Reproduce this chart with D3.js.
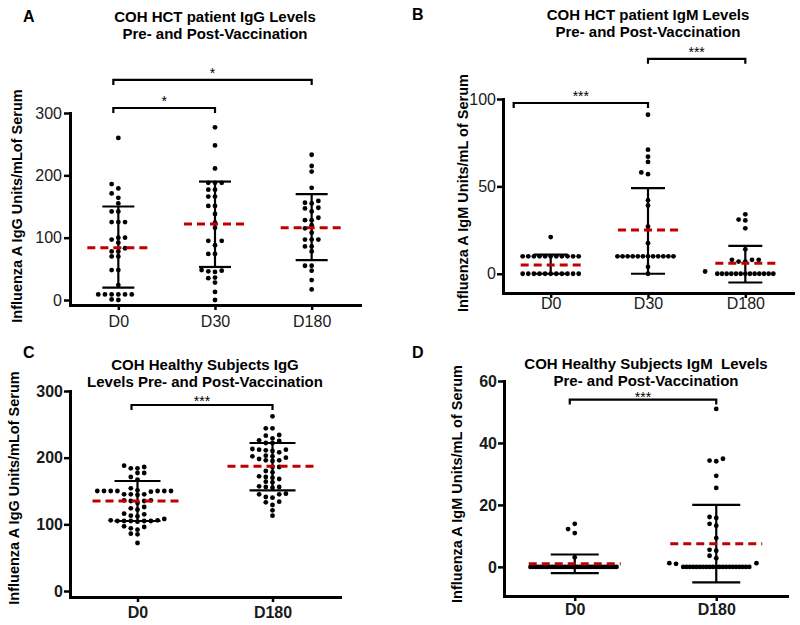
<!DOCTYPE html>
<html>
<head>
<meta charset="utf-8">
<script src="https://cdn.jsdelivr.net/npm/d3@7"></script>
<style>
body { margin: 0; background: #fff; }
svg text { font-family: "Liberation Sans", Arial, sans-serif; }
</style>
</head>
<body>
<svg id="fig" width="800" height="625"></svg>
<script>
// ---- panel A : HCT patients, IgG ----
const catsA = ["D0", "D30", "D180"];
const aD0 = [260, 186, 179, 171, 164, 155, 142, 142, 125, 125, 125, 100, 97, 100, 92, 83, 78, 78, 70, 70, 48, 48, 24, 9, 9, 9, 9, 9, 9, 0, 1];
const aD30 = [277, 248, 211, 188, 188, 188, 177, 177, 166, 166, 151, 151, 138, 124, 116, 95, 95, 88, 74, 74, 48, 47, 46, 45, 36, 35, 28, 13, 0];
const aD180 = [233, 215, 206, 180, 159, 156, 155, 148, 147, 142, 132, 128, 128, 120, 115, 108, 97, 97, 97, 86, 86, 78, 55, 55, 47, 32, 17];
const aMean = [84, 122, 116];
const aSdHi = [150, 190, 170];
const aSdLo = [20, 53, 64];
const aTicks = [0, 100, 200, 300];
const aSig = [["D0", "D30", "*"], ["D0", "D180", "*"]];

// ---- panel B : HCT patients, IgM ----
const catsB = ["D0", "D30", "D180"];
const bD0 = [21, 10, 10, 10, 10, 10, 10, 10, 10, 10, 10, 10, 0, 0, 0, 0, 0, 0, 0, 0, 0, 0, 0];
const bD30 = [91, 71, 67, 64, 58, 57, 42, 39, 27, 17.5, 10, 10, 10, 10, 10, 10, 10, 10, 10, 10, 10, 10, 4, 0];
const bD180 = [34, 31, 30.5, 26, 14, 8, 7, 7, 8, 8, 1.3, 0, 0, 0, 0, 0, 0, 0, 0, 0, 0, 0, 0, 0];
const bMean = [5, 25, 6];
const bSdHi = [11, 49, 16];
const bSdLo = [0, 0, -5];
const bTicks = [0, 50, 100];
const bSig = [["D0", "D30", "***"], ["D30", "D180", "***"]];

// ---- panel C : healthy subjects, IgG ----
const catsC = ["D0", "D180"];
const cD0 = [188, 186, 184, 184, 177, 177, 171, 167, 154, 151, 150, 150, 150, 150, 150, 150, 150, 149, 145, 145, 145, 144, 136, 136, 135, 135, 132, 126, 124, 122, 116, 115, 113, 112, 108, 106, 106, 105, 105, 105, 105, 105, 104, 97, 96, 94, 92, 86, 85, 72];
const cD180 = [262, 244, 244, 234, 233, 229, 226, 225, 222, 222, 213, 212, 212, 211, 210, 208, 203, 202, 202, 200, 198, 196, 196, 195, 186, 186, 180, 178, 172, 171, 170, 168, 164, 163, 157, 156, 156, 155, 146, 145, 145, 141, 140, 134, 133, 129, 121, 113];
const cMean = [135, 187];
const cSdHi = [165, 222];
const cSdLo = [105, 151];
const cTicks = [0, 100, 200, 300];
const cSig = [["D0", "D180", "***"]];

// ---- panel D : healthy subjects, IgM ----
const catsD = ["D0", "D180"];
const dD0 = [13.9, 12.2, 10.9, 3.1, 0, 0, 0, 0, 0, 0, 0, 0, 0, 0, 0, 0, 0, 0, 0, 0, 0, 0, 0, 0, 0, 0, 0, 0, 0, 0, 0, 0, 0, 0, 0, 0, 0, 0, 0, 0];
const dD180 = [51, 34.9, 34.3, 34.1, 29.4, 25.5, 16.1, 15.8, 13.9, 13.3, 9.3, 5.5, 5.2, 3.6, 2.8, 1.2, 1.2, 1, 0, 0, 0, 0, 0, 0, 0, 0, 0, 0, 0, 0, 0, 0, 0, 0, 0, 0, 0, 0, 0];
const dMean = [1, 7.5];
const dSdHi = [4, 20];
const dSdLo = [-2, -5];
const dTicks = [0, 20, 40, 60];
const dSig = [["D0", "D180", "***"]];

const svg = d3.select("#fig");
const RED = "#c00000";

// prism-like column scatter: spread equal values side by side
function swarm(vals, y, s, maxW, dotD) {
  const pts = vals.map(v => ({ v: v, y: y(v) })).sort((a, b) => a.v - b.v);
  const placed = [];
  pts.forEach(p => {
    const same = vals.filter(v => v === p.v).length;
    const se = same > 1 ? Math.min(s, maxW / (same - 1)) : s;
    for (let i = 0; i < 200; i++) {
      const k = i === 0 ? 0 : (i % 2 ? -Math.ceil(i / 2) : i / 2);
      const dx = k * se;
      const hit = placed.some(q => Math.abs(q.y - p.y) < dotD && Math.abs(q.dx - dx) < se * 0.95);
      if (!hit) { p.dx = dx; break; }
    }
    placed.push(p);
  });
  return placed;
}

function drawPanel(o) {
  const g = svg.append("g");
  const x = d3.scalePoint().domain(o.cats).range(o.xRange).padding(o.pad);
  const y = d3.scaleLinear().domain(o.yDomain).range(o.yRange);
  const fw = o.bold ? "bold" : "normal";

  // axes
  const ya = g.append("g")
    .attr("transform", `translate(${o.xRange[0]},0)`)
    .call(d3.axisLeft(y).tickValues(o.ticks).tickSize(6).tickSizeOuter(0).tickPadding(o.yPad));
  const xa = g.append("g")
    .attr("transform", `translate(0,${o.yRange[0]})`)
    .call(d3.axisBottom(x).tickSize(5).tickSizeOuter(0).tickPadding(o.xPad));
  [ya, xa].forEach(a => {
    a.select(".domain").attr("stroke", "#000").attr("stroke-width", 3).attr("stroke-linecap", "square");
    a.selectAll(".tick line").attr("stroke", "#000").attr("stroke-width", 2.5);
    a.selectAll("text").attr("fill", "#1a1a1a")
      .style("font-size", "16px").style("font-weight", fw)
      .style("font-family", '"Liberation Sans", Arial, sans-serif');
  });

  // dots
  o.groups.forEach((vals, i) => {
    const pts = swarm(vals, y, 6.7, o.maxW[i], 4.6);
    g.append("g").selectAll("circle").data(pts).enter().append("circle")
      .attr("cx", d => x(o.cats[i]) + d.dx)
      .attr("cy", d => d.y)
      .attr("r", 2.4)
      .attr("fill", "#000");
  });

  // SD bars + mean
  const stats = o.cats.map((c, i) => ({ c: c, m: o.mean[i], hi: o.sdHi[i], lo: o.sdLo[i] }));
  const sg = g.append("g").attr("stroke", "#000").attr("stroke-width", 2.2);
  sg.selectAll(".v").data(stats).enter().append("line")
    .attr("x1", d => x(d.c)).attr("x2", d => x(d.c))
    .attr("y1", d => y(d.hi)).attr("y2", d => y(d.lo));
  ["hi", "lo"].forEach(k => {
    sg.selectAll(".c" + k).data(stats).enter().append("line")
      .attr("x1", d => x(d.c) - o.cap).attr("x2", d => x(d.c) + o.cap)
      .attr("y1", d => y(d[k])).attr("y2", d => y(d[k]));
  });
  g.append("g").selectAll("line").data(stats).enter().append("line")
    .attr("x1", d => x(d.c) - o.meanW).attr("x2", d => x(d.c) + o.meanW)
    .attr("y1", d => y(d.m)).attr("y2", d => y(d.m))
    .attr("stroke", RED).attr("stroke-width", 3).attr("stroke-dasharray", "8,5");

  // significance brackets
  o.sig.forEach((s, i) => {
    const x1 = x(s[0]) + o.brDx[i], x2 = x(s[1]);
    const by = y(o.brLvl[i]);
    g.append("path")
      .attr("d", `M${x1},${by + 5}V${by}H${x2}V${by + 5}`)
      .attr("fill", "none").attr("stroke", "#000").attr("stroke-width", 2.2);
    g.append("text").attr("x", (x1 + x2) / 2).attr("y", by + o.starDy)
      .attr("text-anchor", "middle").style("font-size", "14px").text(s[2]);
  });

  // titles
  o.title.forEach((t, i) => {
    g.append("text").attr("x", o.titleX).attr("y", o.titleY + i * 17)
      .attr("text-anchor", "middle").style("font-size", "15px").style("font-weight", "bold")
      .style("white-space", "pre").text(t);
  });
  g.append("text").attr("x", o.letter[0]).attr("y", o.letter[1])
    .style("font-size", "16px").style("font-weight", "bold").text(o.letter[2]);
  g.append("text")
    .attr("transform", `translate(${o.yLab[0]},${o.yLab[1]}) rotate(-90)`)
    .attr("text-anchor", "middle").attr("dy", "0.35em")
    .style("font-size", "14.5px").style("font-weight", "bold").text(o.yLab[2]);
}

drawPanel({
  cats: catsA, groups: [aD0, aD30, aD180], mean: aMean, sdHi: aSdHi, sdLo: aSdLo, ticks: aTicks, sig: aSig,
  xRange: [70, 360], pad: 0.5, yDomain: [-8, 300], yRange: [305, 113],
  yPad: 2, xPad: 6, bold: false, maxW: [60, 60, 60], cap: 16, meanW: 31,
  brDx: [-5, -5], brLvl: [308, 353], starDy: -2,
  title: ["COH HCT patient IgG Levels", "Pre- and Post-Vaccination"], titleX: 215, titleY: 22,
  letter: [23, 22, "A"], yLab: [17, 206, "Influenza A IgG Units/mLof Serum"]
});
drawPanel({
  cats: catsB, groups: [bD0, bD30, bD180], mean: bMean, sdHi: bSdHi, sdLo: bSdLo, ticks: bTicks, sig: bSig,
  xRange: [503, 793], pad: 0.49, yDomain: [-11, 100], yRange: [293, 99],
  yPad: 1, xPad: 0, bold: false, maxW: [56, 56, 56], cap: 17, meanW: 30,
  brDx: [-37, 0], brLvl: [97.7, 123], starDy: -2,
  title: ["COH HCT patient IgM Levels", "Pre- and Post-Vaccination"], titleX: 648, titleY: 20,
  letter: [412, 20, "B"], yLab: [463, 193, "Influenza A IgM Units/mL of Serum"]
});
drawPanel({
  cats: catsC, groups: [cD0, cD180], mean: cMean, sdHi: cSdHi, sdLo: cSdLo, ticks: cTicks, sig: cSig,
  xRange: [70, 340], pad: 0.5, yDomain: [-9, 300], yRange: [597, 391],
  yPad: 1, xPad: 5, bold: true, maxW: [55, 55], cap: 23, meanW: 45,
  brDx: [-6], brLvl: [279], starDy: 1,
  title: ["COH Healthy Subjects IgG", "Levels Pre- and Post-Vaccination"], titleX: 205, titleY: 370,
  letter: [23, 358, "C"], yLab: [14, 488, "Influenza A IgG Units/mLof Serum"]
});
drawPanel({
  cats: catsD, groups: [dD0, dD180], mean: dMean, sdHi: dSdHi, sdLo: dSdLo, ticks: dTicks, sig: dSig,
  xRange: [504, 787], pad: 0.5, yDomain: [-9.4, 60], yRange: [596, 381],
  yPad: 1, xPad: 3, bold: true, maxW: [86, 66], cap: 24, meanW: 46,
  brDx: [-5], brLvl: [54], starDy: 2,
  title: ["COH Healthy Subjects IgM  Levels", "Pre- and Post-Vaccination"], titleX: 646, titleY: 369,
  letter: [412, 358, "D"], yLab: [457, 484, "Influenza A IgM Units/mL of Serum"]
});
</script>
</body>
</html>
